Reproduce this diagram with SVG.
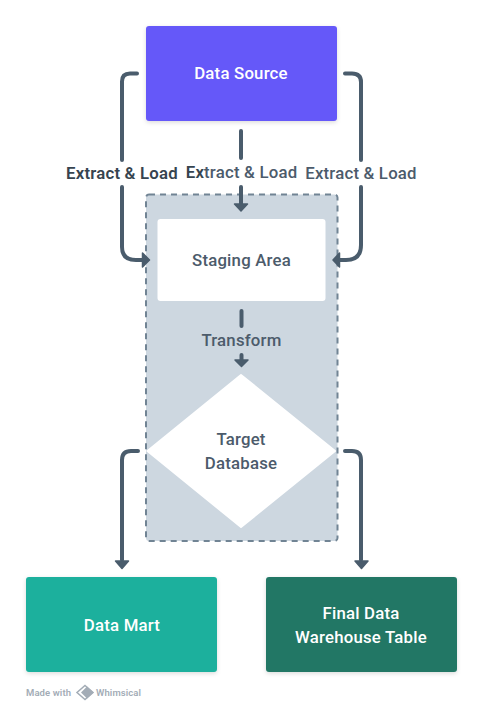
<svg xmlns="http://www.w3.org/2000/svg" width="483" height="712" viewBox="0 0 483 712">
<defs>
<filter id="sh" x="-10%" y="-10%" width="120%" height="125%"><feDropShadow dx="0" dy="1.5" stdDeviation="2" flood-color="#000" flood-opacity="0.14"/></filter>
</defs>
<style>
text{font-family:"Roboto","Liberation Sans",sans-serif;text-anchor:middle;font-size:16.800px;letter-spacing:.2px}
.w{fill:#fff;font-weight:500}
.d{fill:#4c5b6b;font-weight:500}
.b{fill:#36444f;font-weight:600}
.c{fill:none;stroke:#4a5c6c;stroke-width:4;stroke-linecap:round}
.h{fill:#4a5c6c;stroke:#4a5c6c;stroke-width:1.5;stroke-linejoin:round}
</style>
<rect width="483" height="712" fill="#fff"/>
<g id="group-box"><rect x="146" y="194.500" width="191.500" height="346.500" rx="3" fill="#cdd7e0" stroke="#718494" stroke-width="2" stroke-dasharray="6 5"/></g>
<g id="data-source"><rect x="146" y="26" width="191" height="95" rx="3" fill="#6558f9" filter="url(#sh)"/><text class="w" x="241" y="79">Data Source</text></g>
<g id="staging-area"><rect x="157.500" y="219" width="168" height="82" rx="3" fill="#fff"/><text class="d" x="241.500" y="266">Staging Area</text></g>
<g id="target-database"><path d="M241 375 L335 451 L241 527 L147.500 451 Z" fill="#fff" stroke="#fff" stroke-width="2" stroke-linejoin="round"/><text class="d" x="241" y="445">Target</text><text class="d" x="241" y="469">Database</text></g>
<g id="data-mart"><rect x="26" y="577" width="191" height="95" rx="3" fill="#1bb09d" filter="url(#sh)"/><text class="w" x="122" y="631">Data Mart</text></g>
<g id="final-table"><rect x="266" y="577" width="191" height="95" rx="3" fill="#217765" filter="url(#sh)"/><text class="w" x="361" y="619">Final Data</text><text class="w" x="361" y="643">Warehouse Table</text></g>
<g id="connectors">
<path class="c" d="M137 73.500 H130 Q122 73.500 122 81.500 V160"/>
<path class="c" d="M122 187 V247 Q122 260 136 260 H143"/>
<path class="h" d="M142.500 253 L149.500 260 L142.500 267 Z"/>
<path class="c" d="M345 73.500 H352 Q361 73.500 361 82 V160"/>
<path class="c" d="M361 187 V245 Q361 260 346 260 H340"/>
<path class="h" d="M339.500 253 L333 260 L339.500 267 Z"/>
<path class="c" d="M241 131 V158"/>
<path class="c" d="M241 187 V205"/>
<path class="h" d="M234.500 204 H247.500 L241 211 Z"/>
<path class="c" d="M241.500 311 V326"/>
<path class="c" d="M241.500 355 V360"/>
<path class="h" d="M235 360 H248 L241.500 366.500 Z"/>
<path class="c" d="M138 451 H131 Q122 451 122 460 V560"/>
<path class="h" d="M115.500 561 H128.500 L122 568.500 Z"/>
<path class="c" d="M345 451 H352 Q361 451 361 460 V560"/>
<path class="h" d="M355 561 H368 L361.500 568.500 Z"/>
</g>
<g id="labels">
<text class="b" x="122" y="179">Extract &amp; Load</text>
<text class="d" x="241.500" y="178"><tspan class="b">Ex</tspan>tract &amp; Load</text>
<text class="d" x="361" y="179">Extract &amp; Load</text>
<text class="d" x="241.500" y="346">Transform</text>
</g>
<g id="credit">
<text x="26" y="696" style="text-anchor:start;font-size:9.500px;font-weight:600;letter-spacing:.1px" fill="#a3acb6">Made with</text>
<path d="M85 685.500 L93 692.500 L85 699.500 L77 692.500 Z" fill="none" stroke="#a3acb6" stroke-width="1.500"/>
<path d="M87 686.500 L93.500 692.500 L87 698.500 L81 692.500 Z" fill="#a3acb6"/>
<text x="96" y="696" style="text-anchor:start;font-size:9.500px;font-weight:600;letter-spacing:.1px" fill="#a3acb6">Whimsical</text>
</g>
</svg>
